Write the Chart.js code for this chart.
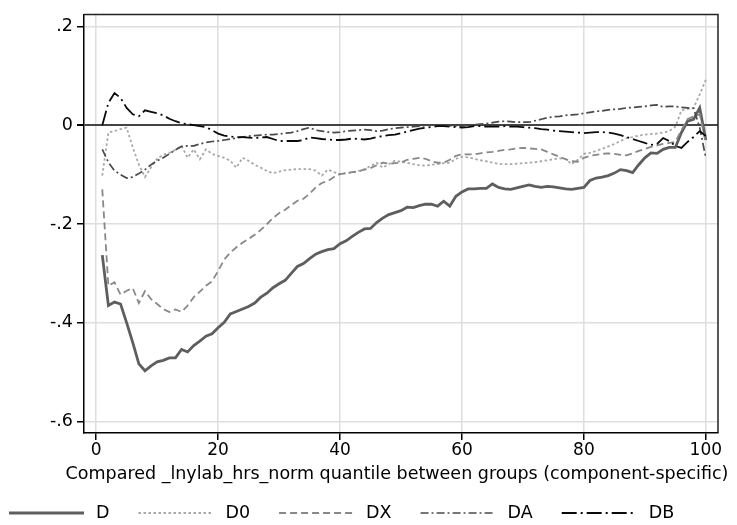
<!DOCTYPE html>
<html>
<head>
<meta charset="utf-8">
<title>Differences by compared quantile</title>
<script src="https://cdn.jsdelivr.net/npm/chart.js@4.4.1/dist/chart.umd.min.js"></script>
<style>
  html, body { margin: 0; padding: 0; background: #fff; }
  canvas { display: block; }
</style>
</head>
<body>
<canvas id="quantileChart" width="737" height="525"></canvas>
<script>
// Quantiles 1..100 on the x axis
const quantiles = [
  1, 2, 3, 4, 5, 6, 7, 8, 9, 10, 11, 12, 13, 14, 15, 16, 17, 18, 19, 20,
  21, 22, 23, 24, 25, 26, 27, 28, 29, 30, 31, 32, 33, 34, 35, 36, 37, 38, 39, 40,
  41, 42, 43, 44, 45, 46, 47, 48, 49, 50, 51, 52, 53, 54, 55, 56, 57, 58, 59, 60,
  61, 62, 63, 64, 65, 66, 67, 68, 69, 70, 71, 72, 73, 74, 75, 76, 77, 78, 79, 80,
  81, 82, 83, 84, 85, 86, 87, 88, 89, 90, 91, 92, 93, 94, 95, 96, 97, 98, 99, 100
];

const dValues = [
  -0.263, -0.365, -0.358, -0.362, -0.400, -0.440, -0.483, -0.497, -0.487, -0.479,
  -0.476, -0.471, -0.471, -0.454, -0.459, -0.446, -0.437, -0.427, -0.422, -0.410,
  -0.399, -0.382, -0.377, -0.372, -0.367, -0.360, -0.348, -0.340, -0.329, -0.321,
  -0.314, -0.300, -0.286, -0.280, -0.270, -0.261, -0.256, -0.252, -0.250, -0.240,
  -0.234, -0.225, -0.217, -0.210, -0.209, -0.197, -0.188, -0.181, -0.177, -0.173,
  -0.166, -0.167, -0.163, -0.160, -0.160, -0.164, -0.154, -0.164, -0.144, -0.135,
  -0.129, -0.129, -0.128, -0.128, -0.119, -0.126, -0.129, -0.130, -0.127, -0.124,
  -0.121, -0.124, -0.126, -0.124, -0.125, -0.127, -0.129, -0.130, -0.128, -0.126,
  -0.112, -0.107, -0.105, -0.102, -0.097, -0.090, -0.092, -0.096, -0.080, -0.066,
  -0.056, -0.057, -0.049, -0.045, -0.045, -0.015, 0.008, 0.012, 0.035, -0.030
];

const d0Values = [
  -0.102, -0.015, -0.012, -0.008, -0.005, -0.045, -0.080, -0.105, -0.085, -0.068,
  -0.060, -0.056, -0.050, -0.042, -0.066, -0.049, -0.069, -0.049, -0.058, -0.062,
  -0.066, -0.072, -0.086, -0.066, -0.072, -0.080, -0.086, -0.093, -0.097, -0.094,
  -0.091, -0.090, -0.089, -0.089, -0.089, -0.092, -0.102, -0.090, -0.095, -0.099,
  -0.097, -0.096, -0.093, -0.089, -0.083, -0.076, -0.086, -0.079, -0.072, -0.074,
  -0.076, -0.079, -0.081, -0.082, -0.080, -0.079, -0.077, -0.076, -0.068, -0.064,
  -0.065, -0.068, -0.071, -0.073, -0.076, -0.078, -0.079, -0.079, -0.078, -0.077,
  -0.076, -0.075, -0.073, -0.071, -0.069, -0.067, -0.068, -0.079, -0.070, -0.058,
  -0.056, -0.052, -0.048, -0.043, -0.038, -0.032, -0.026, -0.024, -0.021, -0.019,
  -0.018, -0.017, -0.015, -0.012, -0.003, 0.030, 0.033, 0.035, 0.062, 0.092
];

const dxValues = [
  -0.130, -0.325, -0.318, -0.343, -0.335, -0.330, -0.360, -0.336, -0.352, -0.362,
  -0.372, -0.378, -0.373, -0.378, -0.365, -0.348, -0.337, -0.325, -0.316, -0.295,
  -0.272, -0.258, -0.247, -0.238, -0.230, -0.222, -0.212, -0.200, -0.188, -0.178,
  -0.171, -0.162, -0.153, -0.149, -0.139, -0.126, -0.117, -0.113, -0.105, -0.099,
  -0.097, -0.095, -0.093, -0.090, -0.087, -0.081, -0.076, -0.078, -0.077, -0.076,
  -0.070, -0.068, -0.066, -0.068, -0.073, -0.076, -0.076, -0.070, -0.062, -0.059,
  -0.059, -0.059, -0.057, -0.055, -0.054, -0.052, -0.050, -0.049, -0.047, -0.046,
  -0.047, -0.048, -0.049, -0.054, -0.059, -0.064, -0.069, -0.073, -0.074, -0.066,
  -0.062, -0.060, -0.058, -0.057, -0.058, -0.060, -0.061, -0.057, -0.052, -0.048,
  -0.044, -0.041, -0.038, -0.036, -0.034, -0.010, 0.012, 0.018, 0.022, -0.035
];

const daValues = [
  -0.049, -0.075, -0.092, -0.100, -0.107, -0.105, -0.098, -0.090, -0.080, -0.072,
  -0.066, -0.058, -0.050, -0.043, -0.042, -0.042, -0.038, -0.035, -0.033, -0.032,
  -0.030, -0.028, -0.026, -0.024, -0.022, -0.021, -0.020, -0.019, -0.019, -0.018,
  -0.016, -0.015, -0.012, -0.008, -0.005, -0.010, -0.012, -0.014, -0.015, -0.014,
  -0.012, -0.011, -0.010, -0.009, -0.010, -0.012, -0.011, -0.008, -0.006, -0.005,
  -0.004, -0.003, -0.002, -0.001, 0.000, 0.001, 0.000, -0.001, -0.002, -0.002,
  0.000, 0.001, 0.002, 0.003, 0.005, 0.007, 0.008, 0.007, 0.006, 0.006,
  0.006, 0.009, 0.012, 0.015, 0.017, 0.018, 0.020, 0.021, 0.022, 0.024,
  0.026, 0.028, 0.029, 0.031, 0.032, 0.033, 0.035, 0.036, 0.037, 0.038,
  0.040, 0.041, 0.037, 0.038, 0.038, 0.036, 0.035, 0.034, -0.005, -0.066
];

const dbValues = [
  0.000, 0.045, 0.065, 0.055, 0.035, 0.022, 0.018, 0.030, 0.027, 0.024,
  0.020, 0.013, 0.008, 0.004, 0.002, 0.000, -0.002, -0.004, -0.010, -0.017,
  -0.021, -0.023, -0.024, -0.024, -0.025, -0.026, -0.025, -0.024, -0.028, -0.032,
  -0.032, -0.032, -0.032, -0.030, -0.025, -0.026, -0.028, -0.029, -0.030, -0.030,
  -0.029, -0.027, -0.028, -0.029, -0.027, -0.024, -0.022, -0.020, -0.019, -0.016,
  -0.013, -0.010, -0.007, -0.005, -0.004, -0.002, -0.002, -0.003, -0.004, -0.005,
  -0.004, -0.002, -0.002, -0.003, -0.003, -0.003, -0.002, -0.003, -0.003, -0.004,
  -0.005, -0.006, -0.008, -0.009, -0.011, -0.012, -0.013, -0.014, -0.015, -0.016,
  -0.015, -0.014, -0.014, -0.015, -0.017, -0.020, -0.024, -0.028, -0.032, -0.036,
  -0.040, -0.038, -0.026, -0.032, -0.042, -0.046, -0.034, -0.024, -0.012, -0.022
];

// Axis ticks and title
const xTicks = [0, 20, 40, 60, 80, 100];
const yTicks = [-0.6, -0.4, -0.2, 0, 0.2];
const yTickLabels = ['-.6', '-.4', '-.2', '0', '.2'];
const xAxisTitle = 'Compared _lnylab_hrs_norm quantile between groups (component-specific)';

const FONT = '"DejaVu Sans", sans-serif';
Chart.defaults.font.family = FONT;
Chart.defaults.font.size = 17;
Chart.defaults.color = '#000';

// Frame round the plot region, the axis title (wider than the plot, so
// Chart.js would squeeze it) and the legend row under it
const frameAndLegend = {
    id: 'frameAndLegend',
    afterDraw(chart) {
        const { ctx, chartArea: a } = chart;
        ctx.save();
        ctx.strokeStyle = '#222';
        ctx.lineWidth = 1.5;
        ctx.beginPath();
        ctx.moveTo(a.left, a.top);
        ctx.lineTo(a.right, a.top);
        ctx.lineTo(a.right, a.bottom);
        ctx.stroke();

        ctx.fillStyle = '#000';
        ctx.textBaseline = 'middle';
        ctx.textAlign = 'center';
        ctx.font = '17.5px ' + FONT;
        ctx.fillText(xAxisTitle, (a.left + a.right) / 2 - 4, 474);

        ctx.textAlign = 'left';
        const y = 513;
        let x = 9;
        chart.data.datasets.forEach(ds => {
            ctx.strokeStyle = ds.borderColor;
            ctx.lineWidth = ds.borderWidth;
            ctx.setLineDash(ds.borderDash || []);
            ctx.beginPath();
            ctx.moveTo(x, y);
            ctx.lineTo(x + 75, y);
            ctx.stroke();
            ctx.setLineDash([]);
            ctx.fillText(ds.label, x + 87, y);
            x += 87 + ctx.measureText(ds.label).width + 29;
        });
        ctx.restore();
    }
};

function series(label, data, color, width, dash, order) {
    return {
        label: label,
        data: data,
        borderColor: color,
        borderWidth: width,
        borderDash: dash,
        pointRadius: 0,
        fill: false,
        tension: 0,
        order: order
    };
}

const ctx = document.getElementById('quantileChart').getContext('2d');
const quantileChart = new Chart(ctx, {
    type: 'line',
    data: {
        labels: quantiles,
        datasets: [
            series('D', dValues, '#5e5e5e', 2.8, [], 5),
            series('D0', d0Values, '#a8a8a8', 1.8, [2.5, 2.5], 4),
            series('DX', dxValues, '#888888', 1.8, [7, 4], 3),
            series('DA', daValues, '#4a4a4a', 1.7, [8, 3, 2, 3], 2),
            series('DB', dbValues, '#0a0a0a', 1.8, [15, 4, 2, 4], 1)
        ]
    },
    options: {
        responsive: false,
        animation: false,
        layout: {
            padding: { top: 11, right: 19, bottom: 37, left: 0 }
        },
        plugins: {
            legend: { display: false },
            tooltip: { enabled: false }
        },
        scales: {
            x: {
                type: 'linear',
                min: -2,
                max: 102,
                afterBuildTicks: scale => {
                    scale.ticks = xTicks.map(v => ({ value: v }));
                },
                afterFit: scale => {
                    scale.height = 55;
                },
                ticks: {
                    padding: 0,
                    maxRotation: 0,
                    font: { size: 17 }
                },
                grid: {
                    color: '#dedede',
                    lineWidth: 1.5,
                    tickColor: '#000',
                    tickLength: 7
                },
                border: { color: '#000', width: 1.5 }
            },
            y: {
                min: -0.623,
                max: 0.224,
                afterBuildTicks: scale => {
                    scale.ticks = yTicks.map(v => ({ value: v }));
                },
                afterFit: scale => {
                    scale.width = 84;
                },
                ticks: {
                    padding: 4,
                    font: { size: 17.5 },
                    callback: function(value) {
                        const i = yTicks.indexOf(value);
                        return i >= 0 ? yTickLabels[i] : '';
                    }
                },
                grid: {
                    color: c => (c.tick && c.tick.value === 0 ? '#444' : '#dedede'),
                    lineWidth: c => (c.tick && c.tick.value === 0 ? 2 : 1.5),
                    tickColor: '#000',
                    tickLength: 7
                },
                border: { color: '#000', width: 1.5 }
            }
        }
    },
    plugins: [frameAndLegend]
});
</script>
</body>
</html>
